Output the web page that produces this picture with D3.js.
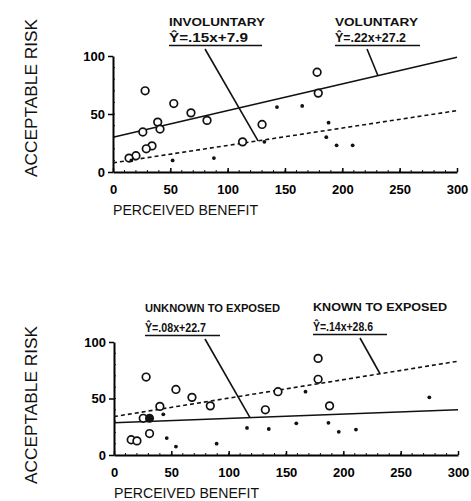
<!DOCTYPE html>
<html>
<head>
<meta charset="utf-8">
<script src="https://cdn.jsdelivr.net/npm/d3@7"></script>
<style>
  body { margin: 0; background: #fff; }
  svg { display: block; font-family: "Liberation Sans", Arial, sans-serif; }
</style>
</head>
<body>
<div id="chart"></div>
<script>
const xTicks = [0, 50, 100, 150, 200, 250, 300];
const yTicks = [0, 50, 100];

// top panel: voluntary (open circles) vs involuntary (dots)
const topOpen = [[28, 70], [53, 59], [68, 51], [82, 44.5], [39, 43], [41, 37], [26, 34.5],
  [34, 22.5], [29, 20], [20, 14], [14, 12], [113, 26], [130, 41], [178, 86], [179, 68]];
const topDots = [[16, 10], [52, 10], [88, 12], [132, 26], [143, 56], [165, 57],
  [188, 42.5], [186, 30], [195, 23], [209, 23]];
const topSolidLine = [[0, 30], [300, 99]];
const topDashedLine = [[0, 7.9], [300, 52.9]];

// bottom panel: known vs unknown to exposed
const bottomOpen = [[28, 69], [54, 58], [68, 51], [84, 43.5], [40, 43], [143, 56], [132, 40],
  [178, 85.5], [178, 67], [188, 43.5], [31, 19], [15, 13.5], [20, 12.5], [25.5, 32.5]];
const bottomFilled = [[31, 32.5]];
const bottomDots = [[43, 36], [46, 15], [54, 7.5], [89.5, 10], [116, 24], [135, 23],
  [159, 28], [167, 56], [187, 28.5], [196, 20.5], [211, 22.5], [275, 51]];
const bottomSolidLine = [[0, 28.5], [300, 40]];
const bottomDashedLine = [[0, 34], [300, 83]];

const svg = d3.select("#chart").append("svg")
  .attr("width", 471).attr("height", 501);

const ink = "#111";

function drawPanel(p) {
  const x = d3.scaleLinear().domain([0, 300]).range(p.xRange);
  const y = d3.scaleLinear().domain([0, 100]).range(p.yRange);
  const g = svg.append("g");

  // axes
  g.append("g")
    .attr("transform", `translate(0,${y(0)})`)
    .call(d3.axisBottom(x).tickValues(xTicks).tickSize(-4).tickPadding(10).tickSizeOuter(0))
    .call(a => a.select(".domain").attr("stroke-width", 2))
    .call(a => a.selectAll(".tick line").attr("stroke-width", 1.5))
    .call(a => a.selectAll("text").attr("font-size", 13).attr("font-weight", "bold").attr("dy", "0.9em"));

  g.append("g")
    .attr("transform", `translate(${x(0)},0)`)
    .call(d3.axisLeft(y).tickValues(yTicks).tickSize(5).tickPadding(3).tickSizeOuter(0))
    .call(a => a.select(".domain").attr("stroke-width", 2))
    .call(a => a.selectAll(".tick line").attr("stroke-width", 1.5))
    .call(a => a.selectAll("text").attr("font-size", 13).attr("font-weight", "bold"));

  // minor ticks
  g.append("g").selectAll("line").data(d3.range(10, 300, 10))
    .join("line")
    .attr("x1", d => x(d)).attr("x2", d => x(d))
    .attr("y1", y(0)).attr("y2", y(0) - 2)
    .attr("stroke", ink).attr("stroke-width", 1);
  g.append("g").selectAll("line").data(d3.range(10, 100, 10))
    .join("line")
    .attr("x1", x(0)).attr("x2", x(0) + 2)
    .attr("y1", d => y(d)).attr("y2", d => y(d))
    .attr("stroke", ink).attr("stroke-width", 1);

  // axis titles
  g.append("text")
    .attr("x", x(0)).attr("y", y(0) + 43)
    .attr("font-size", 15)
    .attr("textLength", 145).attr("lengthAdjust", "spacingAndGlyphs")
    .attr("fill", ink)
    .text("PERCEIVED BENEFIT");
  g.append("text")
    .attr("transform", `translate(37,${p.yLabelMid}) rotate(-90)`)
    .attr("text-anchor", "middle")
    .attr("font-size", 17)
    .attr("textLength", 158).attr("lengthAdjust", "spacingAndGlyphs")
    .attr("fill", ink)
    .text("ACCEPTABLE RISK");

  // regression lines
  const line = d3.line().x(d => x(d[0])).y(d => y(d[1]));
  g.append("path").datum(p.solid).attr("d", line)
    .attr("fill", "none").attr("stroke", ink).attr("stroke-width", 1.6);
  g.append("path").datum(p.dashed).attr("d", line)
    .attr("fill", "none").attr("stroke", ink).attr("stroke-width", 1.6)
    .attr("stroke-dasharray", "4,3");

  // points
  g.append("g").selectAll("circle").data(p.open).join("circle")
    .attr("cx", d => x(d[0])).attr("cy", d => y(d[1])).attr("r", 3.8)
    .attr("fill", "#fff").attr("stroke", ink).attr("stroke-width", 1.7);
  g.append("g").selectAll("circle").data(p.filled || []).join("circle")
    .attr("cx", d => x(d[0])).attr("cy", d => y(d[1])).attr("r", 4.5)
    .attr("fill", ink);
  g.append("g").selectAll("circle").data(p.dots).join("circle")
    .attr("cx", d => x(d[0])).attr("cy", d => y(d[1])).attr("r", 1.9)
    .attr("fill", ink);

  // annotations
  p.notes.forEach(n => {
    const ln = n.onSolid ? p.solid : p.dashed;
    const yAt = ln[0][1] + (ln[1][1] - ln[0][1]) * n.atX / 300;
    const ey = n.y + p.eqGap;
    g.append("text")
      .attr("x", n.x).attr("y", n.y)
      .attr("font-size", 11).attr("font-weight", "bold")
      .attr("textLength", n.w1).attr("lengthAdjust", "spacingAndGlyphs")
      .attr("fill", ink)
      .text(n.title);
    g.append("text")
      .attr("x", n.x).attr("y", ey)
      .attr("font-size", 12).attr("font-weight", "bold")
      .attr("textLength", n.w2 - 14).attr("lengthAdjust", "spacingAndGlyphs")
      .attr("fill", ink)
      .text(n.eq);
    g.append("line")
      .attr("x1", n.x).attr("x2", n.x + n.w2)
      .attr("y1", ey + 3.5).attr("y2", ey + 3.5)
      .attr("stroke", ink).attr("stroke-width", 1.6);
    g.append("line")
      .attr("x1", n.lx).attr("y1", ey + 7)
      .attr("x2", x(n.atX)).attr("y2", y(yAt))
      .attr("stroke", ink).attr("stroke-width", 1.6);
  });
}

drawPanel({
  xRange: [113, 457], yRange: [172, 56], yLabelMid: 98, eqGap: 16,
  open: topOpen, dots: topDots,
  solid: topSolidLine, dashed: topDashedLine,
  notes: [
    { title: "INVOLUNTARY", eq: "Ŷ=.15x+7.9", x: 169, y: 26, w1: 96, w2: 93, lx: 205, atX: 126.5, onSolid: false },
    { title: "VOLUNTARY", eq: "Ŷ=.22x+27.2", x: 335, y: 26, w1: 83, w2: 85, lx: 367, atX: 231, onSolid: true }
  ]
});

drawPanel({
  xRange: [114, 458], yRange: [455, 342], yLabelMid: 405, eqGap: 20,
  open: bottomOpen, filled: bottomFilled, dots: bottomDots,
  solid: bottomSolidLine, dashed: bottomDashedLine,
  notes: [
    { title: "UNKNOWN TO EXPOSED", eq: "Ŷ=.08x+22.7", x: 145, y: 312, w1: 135, w2: 75, lx: 205, atX: 118.6, onSolid: true },
    { title: "KNOWN TO EXPOSED", eq: "Ŷ=.14x+28.6", x: 313, y: 311, w1: 134, w2: 74, lx: 360, atX: 232, onSolid: false }
  ]
});
</script>
</body>
</html>
